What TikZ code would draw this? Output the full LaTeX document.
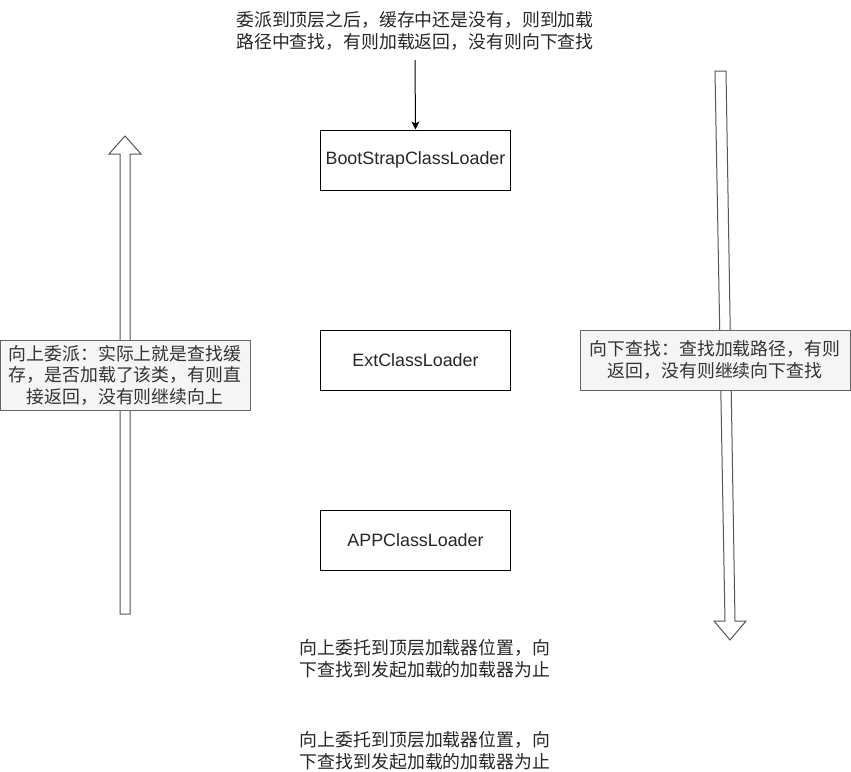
\documentclass[tikz,border=0pt]{standalone}
\usepackage{fontspec}
\setmainfont{Liberation Sans}
\newfontfamily\cjk{Noto Sans CJK SC}
\usetikzlibrary{arrows.meta}
\definecolor{notefill}{HTML}{F5F5F5}
\definecolor{noteline}{HTML}{666666}
\definecolor{notetext}{HTML}{333333}
\definecolor{arrline}{HTML}{555555}
\tikzset{
  loader/.style={draw=black, line width=0.75pt, minimum width=190*0.75pt, minimum height=60*0.75pt, inner sep=0pt,
    font=\fontsize{13.4pt}{16.5pt}\selectfont, text=black!85},
  note/.style={draw=noteline, fill=notefill, line width=0.75pt, inner sep=0pt, text=notetext,
    font=\cjk\fontsize{13.4pt}{16.2pt}\selectfont, align=center},
  plain/.style={inner sep=0pt, align=center, text=black!85, font=\cjk\fontsize{13.4pt}{16.5pt}\selectfont},
  bigarrow/.style={draw=arrline, fill=white, line width=0.75pt, line join=miter},
}
\begin{document}
\begin{tikzpicture}[x=0.75pt,y=-0.75pt]
\useasboundingbox (0,0) rectangle (851,772);
% left hollow up arrow
\draw[bigarrow] (120,614) -- (120,154) -- (109,154) -- (125,136) -- (141,154) -- (130,154) -- (130,614) -- cycle;
% right hollow down arrow (slightly slanted)
\draw[bigarrow] (715,71) -- (726,71) -- (735,621) -- (746,621) -- (730,640) -- (714,621) -- (725,621) -- cycle;
% loaders
\node[loader] (boot) at (415.5,160) {BootStrapClassLoader};
\node[loader] (ext) at (415.5,360) {ExtClassLoader};
\node[loader] (app) at (415.5,540) {APPClassLoader};
% top text
\node[plain] (top) at (415,31) {委派到顶层之后，缓存中还是没有，则到加载\\路径中查找，有则加载返回，没有则向下查找};
\coordinate (topend) at (415,60);
\draw[-{Stealth[length=6pt,width=6pt,inset=1.5pt]}, line width=0.75pt] (topend) -- (boot.north);
% notes
\node[note, minimum width=250*0.75pt, minimum height=70*0.75pt] (lnote) at (125,375)
  {向上委派：实际上就是查找缓\\存，是否加载了该类，有则直\\接返回，没有则继续向上};
\node[note, minimum width=270*0.75pt, minimum height=60*0.75pt] (rnote) at (715,360)
  {向下查找：查找加载路径，有则\\返回，没有则继续向下查找};
% bottom texts
\node[plain] (b1) at (425,659) {向上委托到顶层加载器位置，向\\下查找到发起加载的加载器为止};
\node[plain] (b2) at (425,751) {向上委托到顶层加载器位置，向\\下查找到发起加载的加载器为止};
\end{tikzpicture}
\end{document}
